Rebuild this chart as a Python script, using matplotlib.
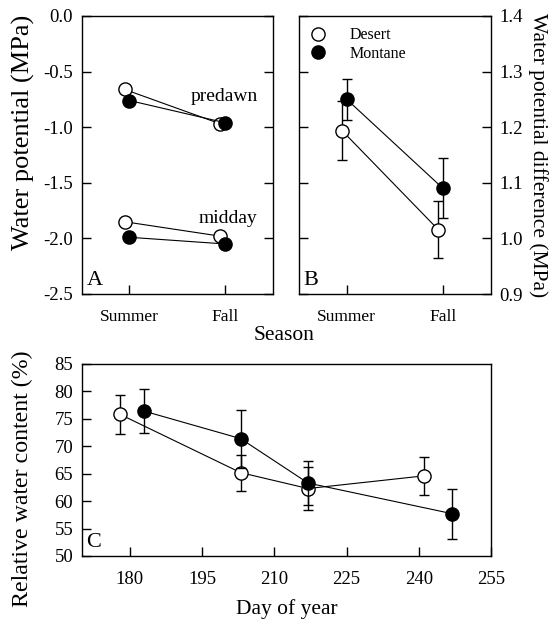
import numpy as np
import matplotlib.pyplot as plt
from matplotlib.lines import Line2D

plt.rcParams['font.family'] = ['Liberation Serif', 'DejaVu Serif']
plt.rcParams['font.size'] = 12.5

# panel A: water potential, summer / fall
seasons = ['Summer', 'Fall']
season_x = np.array([1, 2])
pre_desert = [-0.66, -0.97]
pre_montane = [-0.76, -0.96]
mid_desert = [-1.85, -1.98]
mid_montane = [-1.99, -2.05]

# panel B: water potential difference
diff_desert = [1.194, 1.016]
diff_desert_se = [0.053, 0.052]
diff_montane = [1.250, 1.090]
diff_montane_se = [0.037, 0.054]

# panel C: relative water content over the season
day_desert = [178, 203, 217, 241]
rwc_desert = [75.8, 65.2, 62.3, 64.6]
rwc_desert_se = [3.6, 3.3, 3.9, 3.4]
day_montane = [183, 203, 217, 247]
rwc_montane = [76.4, 71.4, 63.3, 57.7]
rwc_montane_se = [4.0, 5.3, 4.0, 4.6]

W, H = 558, 623
fig = plt.figure(figsize=(W / 100, H / 100), dpi=100)

def px_axes(left, top, right, bottom):
    return fig.add_axes([left / W, 1 - bottom / H, (right - left) / W, (bottom - top) / H])

axA = px_axes(81.5, 16, 273, 294)
axB = px_axes(298.7, 16, 491, 294)
axC = px_axes(81.7, 364, 491, 556)

open_kw = dict(marker='o', ms=9.5, mfc='white', mec='black', mew=1.0, color='black', lw=0.8)
fill_kw = dict(marker='o', ms=9.5, mfc='black', mec='black', mew=1.0, color='black', lw=0.8)
off = 0.05

for ax in (axA, axB, axC):
    for s in ax.spines.values():
        s.set_linewidth(1.0)
    ax.tick_params(direction='in', length=6.5, width=1.0, labelsize=13.5)

# A
axA.plot(season_x - off, pre_desert, zorder=3, **open_kw)
axA.plot(season_x, pre_montane, zorder=3, **fill_kw)
axA.plot(season_x - off, mid_desert, zorder=3, **open_kw)
axA.plot(season_x, mid_montane, zorder=3, **fill_kw)
axA.set_xlim(0.5, 2.5)
axA.set_ylim(-2.5, 0)
axA.set_yticks(np.arange(-2.5, 0.01, 0.5))
axA.set_yticklabels(['%.1f' % v for v in np.arange(-2.5, 0.01, 0.5)])
axA.set_xticks(season_x)
axA.set_xticklabels(seasons, fontsize=12.5)
axA.tick_params(axis='x', pad=11)
axA.tick_params(axis='y', right=True, pad=6)
axA.set_ylabel('Water potential (MPa)', fontsize=19)
axA.yaxis.set_label_coords(-0.245, 0.58)
axA.text(2.34, -0.72, 'predawn', ha='right', va='center', fontsize=14)
axA.text(2.34, -1.82, 'midday', ha='right', va='center', fontsize=14)
axA.text(0.55, -2.46, 'A', ha='left', va='bottom', fontsize=16)

# B
axB.errorbar(season_x - off, diff_desert, yerr=diff_desert_se, capsize=3.5,
             elinewidth=1.0, capthick=1.0, ecolor='black', zorder=3, **open_kw)
axB.errorbar(season_x, diff_montane, yerr=diff_montane_se, capsize=3.5,
             elinewidth=1.0, capthick=1.0, ecolor='black', zorder=4, **fill_kw)
axB.set_xlim(0.5, 2.5)
axB.set_ylim(0.9, 1.4)
axB.set_yticks(np.arange(0.9, 1.41, 0.1))
axB.set_yticklabels(['%.1f' % v for v in np.arange(0.9, 1.41, 0.1)])
axB.set_xticks(season_x)
axB.set_xticklabels(seasons, fontsize=12.5)
axB.tick_params(axis='x', pad=11)
axB.tick_params(axis='y', left=True, right=True, labelleft=False, labelright=True, pad=6)
axB.yaxis.set_label_position('right')
axB.set_ylabel('Water potential difference (MPa)', fontsize=15.5, rotation=270, labelpad=18)
axB.text(0.55, 0.908, 'B', ha='left', va='bottom', fontsize=16)
handles = [Line2D([], [], ls='none', **{k: v for k, v in open_kw.items() if k not in ('color', 'lw')}),
           Line2D([], [], ls='none', **{k: v for k, v in fill_kw.items() if k not in ('color', 'lw')})]
axB.legend(handles, ['Desert', 'Montane'], loc='upper left', frameon=False,
           handlelength=1.0, handletextpad=1.5, labelspacing=0.15,
           borderaxespad=0.4, borderpad=0.3, fontsize=11.5)

fig.text(284 / W, 1 - 336 / H, 'Season', ha='center', va='center', fontsize=15.5)

# C
axC.errorbar(day_desert, rwc_desert, yerr=rwc_desert_se, capsize=3.5,
             elinewidth=1.0, capthick=1.0, ecolor='black', zorder=3, **open_kw)
axC.errorbar(day_montane, rwc_montane, yerr=rwc_montane_se, capsize=3.5,
             elinewidth=1.0, capthick=1.0, ecolor='black', zorder=4, **fill_kw)
axC.set_xlim(170, 255)
axC.set_ylim(50, 85)
axC.set_xticks(np.arange(180, 256, 15))
axC.set_yticks(np.arange(50, 86, 5))
axC.tick_params(axis='x', pad=11)
axC.tick_params(axis='y', pad=6)
axC.set_xlabel('Day of year', fontsize=15.5, labelpad=8)
axC.set_ylabel('Relative water content (%)', fontsize=17.2)
axC.yaxis.set_label_coords(-0.12, 0.40)
axC.text(171, 50.8, 'C', ha='left', va='bottom', fontsize=16)

fig.savefig('out.png', dpi=100)
